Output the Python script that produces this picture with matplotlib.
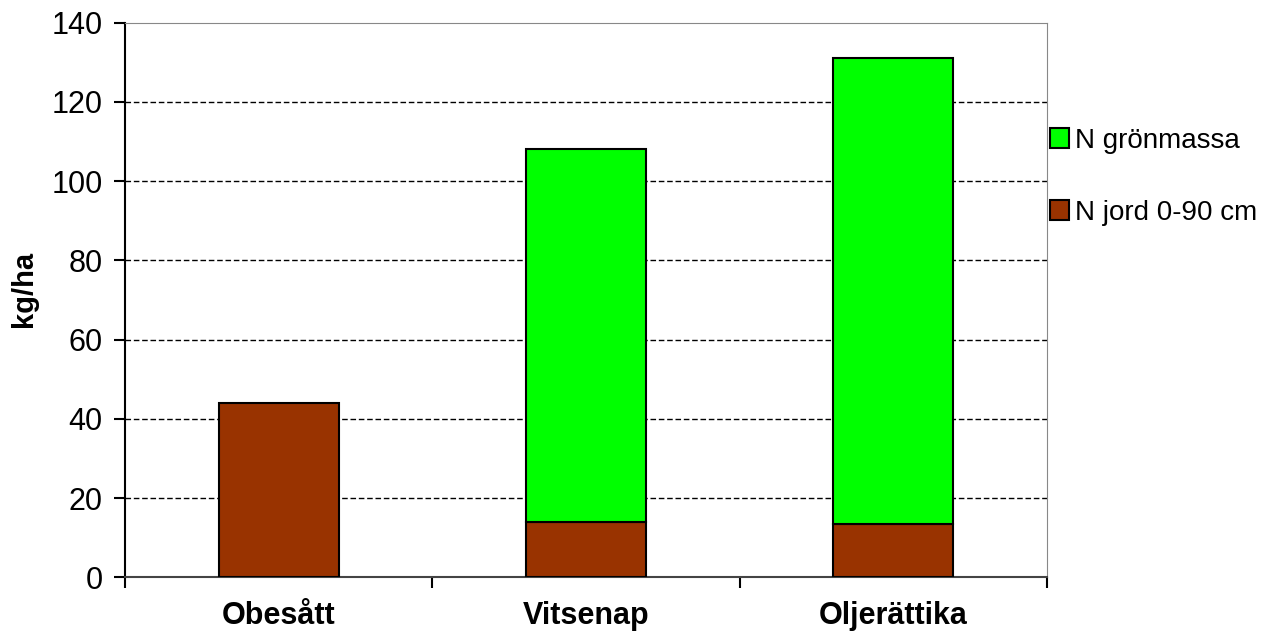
import matplotlib.pyplot as plt
import numpy as np

plt.rcParams['font.family'] = ['Liberation Sans', 'DejaVu Sans']

categories = ['Obesått', 'Vitsenap', 'Oljerättika']
n_jord = [44, 14, 13.5]
n_gron = [0, 94, 117.5]
series_names = ['N grönmassa', 'N jord 0-90 cm']

brown = '#993300'
green = '#00ff00'

fig = plt.figure(figsize=(12.83, 6.35), dpi=100)
ax = fig.add_axes([0.0974, 0.0909, 0.7186, 0.8734])

x = np.arange(len(categories))
w = 0.39
b1 = ax.bar(x, n_jord, w, color=brown, edgecolor='black', linewidth=1.5, zorder=3)
b2 = ax.bar(x, n_gron, w, bottom=n_jord, color=green, edgecolor='black', linewidth=1.5, zorder=3)
# no green segment for the unsown plot
b2[0].set_visible(False)

ax.set_xlim(-0.5, len(categories) - 0.5)
ax.set_ylim(0, 140)
ax.set_yticks(np.arange(0, 141, 20))
ax.tick_params(axis='y', labelsize=22, length=8, width=1.5, direction='out', pad=8)

# category labels centred, tick marks between categories
ax.set_xticks(x)
ax.set_xticklabels(categories, fontsize=22, fontweight='bold')
ax.tick_params(axis='x', length=0, pad=17)
ax.set_xticks(np.arange(-0.5, len(categories)), minor=True)
ax.tick_params(axis='x', which='minor', length=8, width=1.5, direction='out')

ax.set_ylabel('kg/ha', fontsize=21, fontweight='bold')
ax.yaxis.set_label_coords(-0.094, 0.52)

for y in range(20, 140, 20):
    ax.axhline(y, color='black', linestyle=(0, (4, 2)), linewidth=1, zorder=1)

ax.spines['left'].set_color('black')
ax.spines['left'].set_linewidth(1.5)
ax.spines['bottom'].set_color('#444444')
ax.spines['bottom'].set_linewidth(1.5)
ax.spines['top'].set_color('#888888')
ax.spines['right'].set_color('#888888')

leg = ax.legend([b2[1], b1[0]], series_names, loc='center left',
                bbox_to_anchor=(1.0, 0.722), frameon=False, fontsize=20,
                handlelength=0.7, handleheight=0.7, handletextpad=0.2,
                labelspacing=1.65, borderaxespad=0.0, borderpad=0.1)

fig.savefig('out.png', dpi=100)
